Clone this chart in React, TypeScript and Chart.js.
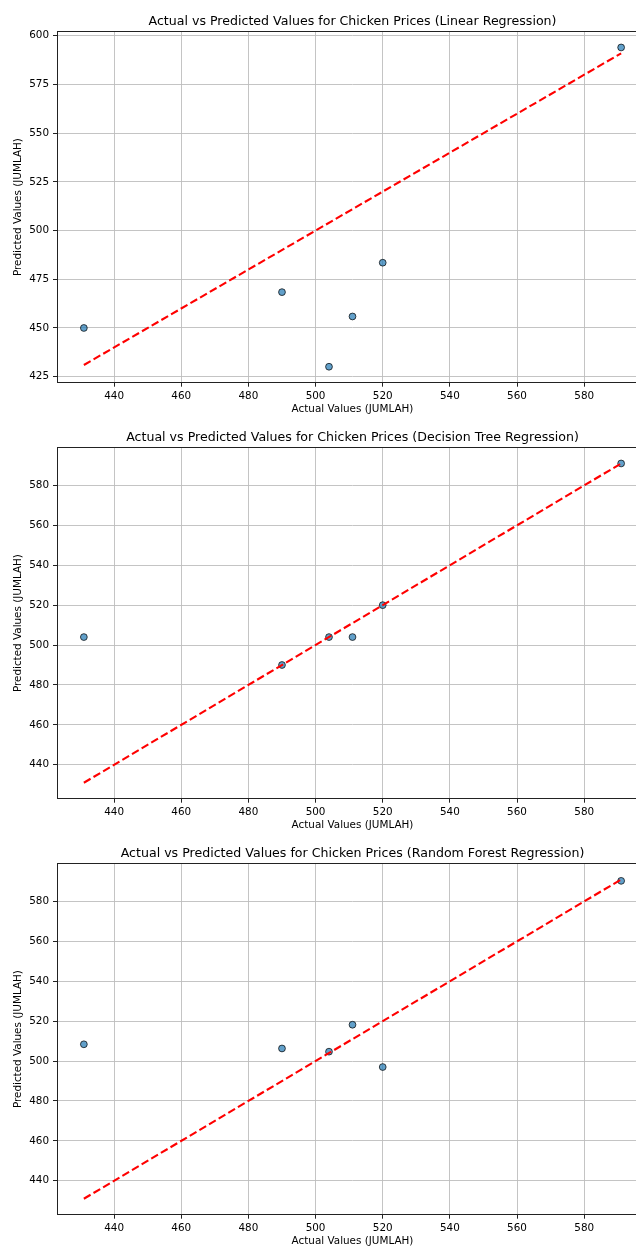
import React, { useEffect, useRef } from "react";
import { Chart, registerables } from "chart.js";

Chart.register(...registerables);

// ---- data ----
const actualValues = [431, 490, 504, 511, 520, 591];
const predictedLinear = [450, 468.4, 430.1, 455.9, 483.5, 594.0];
const predictedTree = [504, 490, 504, 504, 520, 591];
const predictedForest = [508.4, 506.3, 504.7, 518.2, 497, 590.3];

const xTickValues = [440, 460, 480, 500, 520, 540, 560, 580];
const yTicksLinear = [425, 450, 475, 500, 525, 550, 575, 600];
const yTicksTree = [440, 460, 480, 500, 520, 540, 560, 580];
const yTicksForest = [440, 460, 480, 500, 520, 540, 560, 580];

const panelTitles = [
  "Actual vs Predicted Values for Chicken Prices (Linear Regression)",
  "Actual vs Predicted Values for Chicken Prices (Decision Tree Regression)",
  "Actual vs Predicted Values for Chicken Prices (Random Forest Regression)",
];
const xAxisLabel = "Actual Values (JUMLAH)";
const yAxisLabel = "Predicted Values (JUMLAH)";

const FONT = "'DejaVu Sans', sans-serif";
const CANVAS_W = 660;
const CANVAS_H = 416;

function paddedRange(values: number[]) {
  const lo = Math.min(...values);
  const hi = Math.max(...values);
  const m = (hi - lo) * 0.05;
  return [lo - m, hi + m];
}

function makeFramePlugin(title: string) {
  return {
    id: "frameAndTitle",
    afterDraw(chart: any) {
      const { ctx, chartArea: a } = chart;
      ctx.save();
      ctx.strokeStyle = "#222";
      ctx.lineWidth = 1;
      const l = Math.floor(a.left) + 0.5;
      const t = Math.floor(a.top) + 0.5;
      const r = Math.floor(a.right) + 0.5;
      const b = Math.floor(a.bottom) + 0.5;
      ctx.strokeRect(l, t, r - l, b - t);
      ctx.fillStyle = "#000";
      ctx.font = `12.6px ${FONT}`;
      ctx.textAlign = "center";
      ctx.textBaseline = "alphabetic";
      ctx.fillText(title, (a.left + a.right) / 2, 25);
      ctx.restore();
    },
  };
}

function Panel(props: { title: string; predicted: number[]; yTicks: number[]; top: number }) {
  const ref = useRef<HTMLCanvasElement | null>(null);
  useEffect(() => {
    const canvas = ref.current;
    if (!canvas) return;
    const { title, predicted, yTicks } = props;
    const minA = Math.min(...actualValues);
    const maxA = Math.max(...actualValues);
    const lineData = [
      { x: minA, y: minA },
      { x: maxA, y: maxA },
    ];
    const points = actualValues.map((x, i) => ({ x, y: predicted[i] }));
    const [xMin, xMax] = paddedRange(actualValues);
    const [yMin, yMax] = paddedRange([...predicted, minA, maxA]);

    const tickFont = { family: FONT, size: 10.4 };
    const grid = {
      color: "#bdbdbd",
      lineWidth: 0.9,
      drawTicks: true,
      tickLength: 4,
      tickColor: "#222",
      tickWidth: 1,
    };

    const chart = new Chart(canvas, {
      type: "scatter",
      data: {
        datasets: [
          {
            type: "line",
            data: lineData,
            borderColor: "#ff0000",
            borderWidth: 2.1,
            borderDash: [7.8, 3.4],
            borderCapStyle: "butt",
            pointRadius: 0,
            fill: false,
            tension: 0,
            order: 0,
          } as any,
          {
            type: "scatter",
            data: points,
            backgroundColor: "rgba(31,119,180,0.7)",
            borderColor: "rgba(0,0,0,0.7)",
            borderWidth: 1,
            pointRadius: 3.4,
            order: 1,
          } as any,
        ],
      },
      options: {
        responsive: false,
        animation: false,
        devicePixelRatio: 1,
        events: [],
        layout: { padding: { top: 31.5, right: 12, left: 0, bottom: 0 } },
        plugins: {
          legend: { display: false },
          tooltip: { enabled: false },
          title: { display: false },
        },
        scales: {
          x: {
            type: "linear",
            min: xMin,
            max: xMax,
            afterBuildTicks: (s: any) => {
              s.ticks = xTickValues.map((v) => ({ value: v }));
            },
            afterFit: (s: any) => {
              s.height = 33.3;
            },
            grid,
            border: { display: false },
            ticks: {
              font: tickFont,
              color: "#000",
              padding: 3,
              maxRotation: 0,
              autoSkip: false,
              callback: (v: any) => String(v),
            },
            title: {
              display: true,
              text: xAxisLabel,
              font: tickFont,
              color: "#000",
              padding: { top: 0, bottom: 0 },
            },
          },
          y: {
            type: "linear",
            min: yMin,
            max: yMax,
            afterBuildTicks: (s: any) => {
              s.ticks = yTicks.map((v) => ({ value: v }));
            },
            afterFit: (s: any) => {
              s.width = 57;
            },
            grid,
            border: { display: false },
            ticks: {
              font: tickFont,
              color: "#000",
              padding: 4,
              autoSkip: false,
              callback: (v: any) => String(v),
            },
            title: {
              display: true,
              text: yAxisLabel,
              font: tickFont,
              color: "#000",
              padding: { top: 12, bottom: 0 },
            },
          },
        },
      } as any,
      plugins: [makeFramePlugin(title)],
    });
    return () => chart.destroy();
  }, []);

  return (
    <canvas
      ref={ref}
      width={CANVAS_W}
      height={CANVAS_H}
      style={{
        position: "absolute",
        left: 0,
        top: props.top,
        width: CANVAS_W,
        height: CANVAS_H,
        display: "block",
      }}
    />
  );
}

export default function App() {
  return (
    <div
      style={{
        position: "absolute",
        left: 0,
        top: 0,
        width: 636,
        height: 1247,
        overflow: "hidden",
        background: "#fff",
      }}
    >
      <Panel title={panelTitles[0]} predicted={predictedLinear} yTicks={yTicksLinear} top={0} />
      <Panel title={panelTitles[1]} predicted={predictedTree} yTicks={yTicksTree} top={416} />
      <Panel title={panelTitles[2]} predicted={predictedForest} yTicks={yTicksForest} top={832} />
    </div>
  );
}
